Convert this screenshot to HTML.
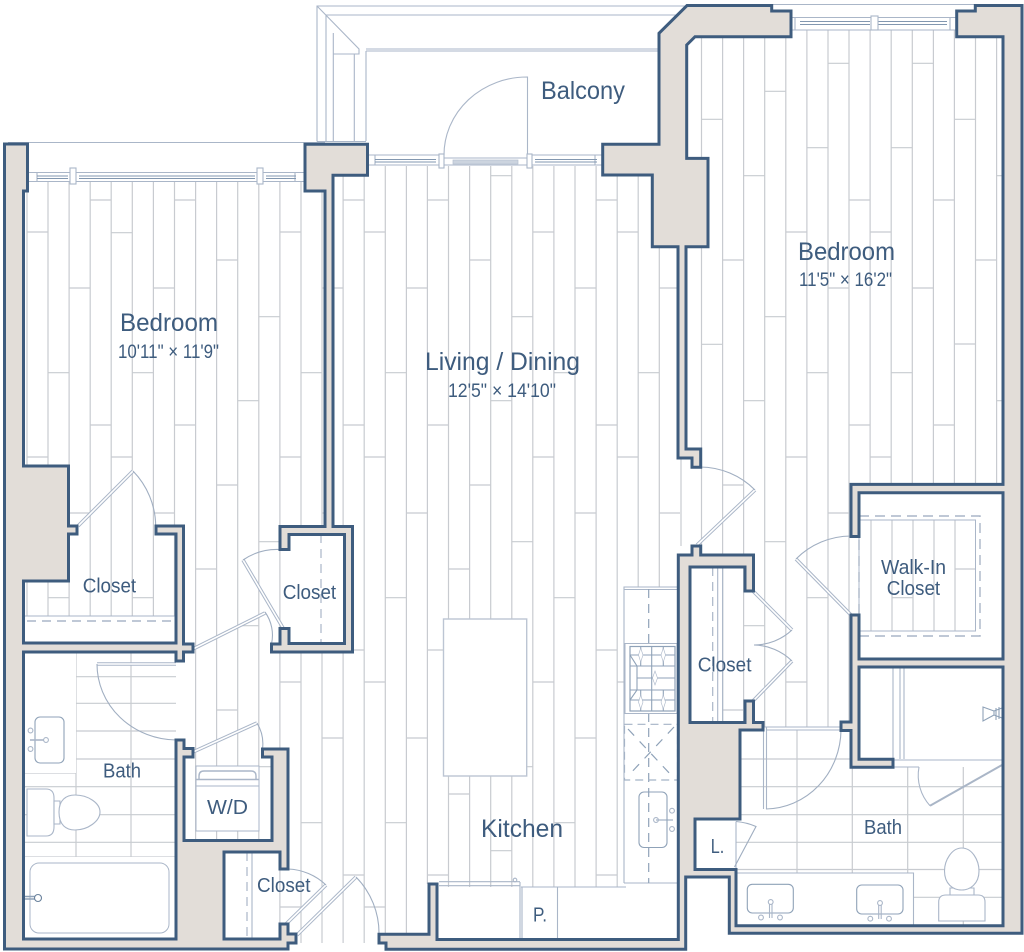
<!DOCTYPE html>
<html><head><meta charset="utf-8"><style>
html,body{margin:0;padding:0;background:#fff}
svg{display:block}
text{font-family:"Liberation Sans",sans-serif;fill:#3e5c7e}
.p{fill:none;stroke:#c8cbd0;stroke-width:1.2}
.l{fill:none;stroke:#aab6c8;stroke-width:1.1}
.d{fill:none;stroke:#aab6c8;stroke-width:1.2;stroke-dasharray:9 6}
.w{fill:#e2ddd8;stroke:#3e5c7e;stroke-width:3;stroke-linejoin:miter}
.f{fill:#fff;stroke:#aab6c8;stroke-width:1.1}
.dl{fill:none;stroke:#aab6c8;stroke-width:3.6}
.dw{fill:none;stroke:#fff;stroke-width:1.6}
</style></head><body>
<svg width="1024" height="952" viewBox="0 0 1024 952" xmlns="http://www.w3.org/2000/svg">
<rect width="1024" height="952" fill="#fff"/>

<!-- plank verticals -->
<path class="p" d="M27 182V616M48 182V616M69.1 182V616M90.2 182V616M111.2 182V616M132.3 182V616M153.4 182V616M174.5 182V616
M195.6 182V840M216.6 182V840M237.7 182V840M258.8 182V840M279.9 182V925M301 182V534M301 644V943M322 182V534M322 644V943M343.1 176V526M343.1 652V943M364.2 176V943
M385.3 166V934M406.4 166V934M427.4 166V884M448.5 166V887M469.6 166V887M490.7 166V887M511.8 166V887M532.8 166V887M553.9 166V887M575 166V887M596.1 166V887M617.2 176V887
M638.2 176V587M659.3 247V587M681 458V546
M701.5 37V555M722.6 37V722M743.6 37V722M764.7 37V727M785.8 37V727M806.9 30V727M828 30V727M849 30V727
M870.1 30V484M891.2 30V484M912.3 30V484M933.4 30V484M954.4 30V484M975.5 37V484M996.6 37V484
M871 520V631M892 520V631M913 520V631M934 520V631M955 520V631"/>
<!-- plank seams -->
<path class="p" d="M27 232h21M27 457h21M48 372.7h21M48 597.7h21M69 288h21M69 513h21M90 200h21M90 425h21M111 232.7h21M111 457h21M132 372.7h21M132 597.7h21M153 288h21M153 513h21M174 200h21M174 425h21
M195.6 569h21M216.6 260h21M216.6 485h21M216.6 710h21M237.7 400.7h21M237.7 625.7h21M258.8 316.7h21M258.8 541.7h21M258.8 766.7h14
M280 232h21M280 457h21M280 682h21M280 907h21M301 372.7h21M301 822.7h21M322 288h21M322 513h3M322 738h21M343 200h21M343 425h21M343 650h21M343 875h21
M364 232h21M364 457h21M364 682h21M364 907h21M385 372.7h21M385 597.7h21M385 822.7h21M406 288h21M406 513h21M406 738h21M427 200h21M427 425h21M427 650h21M427 875h21
M448.5 569h21M448.5 794h21M469.6 260h21M469.6 485h21M490.7 175.7h21M490.7 400.7h21M490.7 850.7h21M511.8 316.7h21M511.8 541.7h21M511.8 766.7h21
M532.8 232h21M532.8 457h21M532.8 682h21M553.9 372.7h21M553.9 597.7h21M553.9 822.7h21M575 288h21M575 513h21M575 738h21M596 200h21M596 425h21M596 650h21M596 875h21
M617 232h21M617 457h21M617 682h8M638 372.7h21M659 288h21M659 513h21
M701.5 119.3h21M701.5 344.3h21M722.6 260h21M722.6 485h21M722.6 710h21M743.6 175.7h21M743.6 400.7h21M743.6 625.7h21M764.7 91.3h21M764.7 316.7h21M764.7 541.7h21
M785.8 232h21M785.8 457h21M785.8 682h21M806.9 147.7h21M806.9 372.7h21M806.9 597.7h21M828 63.3h21M828 288h21M828 513h21M849 200h21M849 425h21
M870 232h21M870 457h21M891 147.7h21M891 372.7h21M892 597.7h21M912 63.3h21M912 288h21M933 200h21M933 425h21M954 119.3h21M954 344h21M955 569h21M975 260h21M997 175.7h6M997 400.7h6"/>

<!-- left bath tile -->
<path class="p" d="M76 652V857M131 652V857M76 676.7H176M76 703.3H176M76 731H176M24 759H176M24 786.7H176M24 814.7H176M24 842.3H176M24 857H176M24 773H76"/>
<!-- right bath tile -->
<path class="p" d="M797 730V873M852.3 767V873M907.7 767V873M963.3 767V925M740 759H851M740 786.7H1003M736 814.7H1003M736 842.3H1003M736 869.5H1003M913 897.3H1003"/>

<!-- balcony -->
<path class="l" d="M317 141.5V6H688M326 141V15H678M333.3 141V33M354.3 141V54M366 141V51M317 6L359 49V54H333.3M366 49H660M366 51H660M317 141.5H366M8 142.5H325"/>
<path class="l" d="M527.5 155V77A83 78 0 0 0 444 155"/>

<!-- windows left bedroom -->
<path class="l" d="M28 172.5H305M28 181.5H305M37 172.5V181.5M295 172.5V181.5"/>
<path class="l" style="stroke:#8297b0" d="M37 176H68M37 178.5H68M79 176H255M79 178.5H255M266 176H296M266 178.5H296"/>
<rect class="f" x="70" y="168" width="6" height="16"/><rect class="f" x="257" y="168" width="6" height="16"/>
<!-- centre windows -->
<path class="l" d="M368 155H439M368 165H439M532 155H602M532 165H602M375 155V165M595 155V165"/>
<path class="l" style="stroke:#8297b0" d="M375 159.5H436M375 162H436M535 159.5H597M535 162H597"/>
<rect class="f" x="439" y="154" width="5" height="14"/><rect class="f" x="527" y="154" width="5" height="14"/>
<path class="l" d="M444 158H527M444 165H527"/>
<rect x="453" y="160" width="65" height="4" fill="#ccd4df" stroke="#b5c0d0" stroke-width=".7"/>
<!-- right window -->
<path class="l" d="M791 17.5H956M791 30H956M795 17.5V30M950 17.5V30M772.5 4.5H975"/>
<path class="l" style="stroke:#8297b0" d="M800 21.5H870M800 24.5H870M878 21.5H947M878 24.5H947"/>
<rect class="f" x="871" y="16" width="7" height="14"/>

<!-- island -->
<rect x="443.5" y="619" width="83.2" height="157" fill="#fff" stroke="#bcc5d3" stroke-width="1.4"/>

<!-- kitchen counter -->
<rect x="624" y="587" width="54" height="296" fill="#fff"/>
<path class="l" d="M624 883V587H678M624 589.5H678M624 883H678M521 887H626"/>
<path class="d" style="stroke:#8fa2b8" d="M648.7 589V644M648.7 713V883"/>
<rect x="625" y="643.5" width="52" height="70" fill="#fff" stroke="#aab6c8" stroke-width="1"/>
<rect x="630" y="646.5" width="45" height="64.5" fill="none" stroke="#8fa2b8" stroke-width="1.2"/>
<path class="l" style="stroke:#8fa2b8;stroke-width:1.1" d="M630 655H675M630 666H675M637 678H675M630 690H675M630 700H675M640.7 646V666M651.7 646V711M663.3 646V666M640.7 690V711M663.3 690V711M630 655L637 666V690L630 700"/>
<path fill="#fff" stroke="#aab6c8" stroke-width=".6" d="M640.7 648L643 655L640.7 662L638.5 655ZM663.3 648L665.5 655L663.3 662L661 655ZM655 671L657.5 678L655 685L652.5 678ZM640.7 695L643 702L640.7 709L638.5 702ZM663.3 695L665.5 702L663.3 709L661 702Z"/>
<rect x="624.5" y="724.3" width="53" height="55.7" fill="none" stroke="#a5b3c6" stroke-width="1.2" stroke-dasharray="8 5"/>
<path class="d" style="stroke:#8fa2b8;stroke-dasharray:9 8" d="M628 729L672 776M674 727L628 776"/>
<rect x="639" y="792" width="28" height="55.5" rx="5" fill="none" stroke="#8fa2b8" stroke-width="1.1"/>
<path class="l" style="stroke:#8fa2b8" d="M656 820H673"/>
<circle class="l" cx="656" cy="820" r="2.4"/><circle class="l" cx="672" cy="810.7" r="2.4"/><circle class="l" cx="672" cy="829" r="2.4"/>
<!-- fridge & pantry -->
<path class="l" d="M439 881.7H520M439 885.7H520M520 882V939M522 887V939M557.5 887V939"/>
<circle class="l" cx="515" cy="880" r="1.8"/>

<!-- closet shelves -->
<path class="l" d="M24 616H176"/>
<path class="d" style="stroke-width:1.4" d="M27 621H175"/>
<path class="d" d="M321 534V643"/>
<path class="d" d="M247 852V939"/>
<path class="l" d="M252 852V939"/>
<path class="d" d="M712.7 567V722"/>
<path class="l" d="M717.7 567V722M722.7 567V722"/>

<!-- walk-in -->
<rect x="859" y="516" width="121" height="120" fill="none" stroke="#aab6c8" stroke-width="1.4" stroke-dasharray="10 6"/>
<rect x="859" y="520" width="116.5" height="111" fill="none" stroke="#aab6c8" stroke-width="1"/>

<!-- W/D -->
<rect x="196" y="766" width="63" height="65" fill="#fff" stroke="#aab6c8"/>
<path class="l" d="M196 786H259"/>
<path class="l" style="stroke-width:1.4" d="M199 779V776Q199 771 204 771H251Q256 771 256 776V779M196 779.5H259"/>

<!-- left bath fixtures -->
<rect x="24" y="857" width="152" height="82" fill="#fff"/>
<rect x="24" y="652" width="52" height="121" fill="#fff"/>
<rect x="30" y="863" width="139" height="70" rx="9" fill="#fff" stroke="#aab6c8"/>
<path class="l" style="stroke:#8fa2b8;stroke-width:1.4" d="M25 896.5H36M25 899H36"/>
<circle cx="38" cy="898" r="3.5" fill="#fff" stroke="#6a829d" stroke-width="1.1"/>
<rect x="35" y="717" width="29" height="46" rx="5" fill="#fff" stroke="#8fa2b8" stroke-width="1.1"/>
<path class="l" style="stroke-width:1.6" d="M30 740H46"/>
<circle class="f" cx="30.5" cy="730.5" r="2.4"/><circle class="f" cx="30.5" cy="749" r="2.4"/><circle class="f" cx="46" cy="740" r="2.4"/>
<path class="f" d="M27 789H46Q54 789 54 798V827Q54 836 46 836H27Z"/>
<path class="f" d="M54 801H60V824H54Z"/>
<path class="f" d="M59 812C59 800 66 795 75 795C88 795 100 803 100 812C100 821 88 830 75 830C66 830 59 825 59 812Z"/>

<!-- right bath fixtures -->
<rect x="736" y="873" width="177.5" height="52" fill="#fff"/>
<path class="l" d="M736 873H913.5V925"/>
<rect x="747.3" y="884.3" width="46" height="28.7" rx="5" fill="none" stroke="#8fa2b8" stroke-width="1.1"/>
<rect x="856.7" y="885" width="46.3" height="29" rx="5" fill="none" stroke="#8fa2b8" stroke-width="1.1"/>
<path class="l" d="M769.5 902V918M772 902V918M878.7 903V919M881.2 903V919"/>
<circle class="f" cx="770.7" cy="902" r="2.4"/><circle class="l" cx="761" cy="917.5" r="2.4"/><circle class="l" cx="780" cy="917.5" r="2.4"/>
<circle class="f" cx="880" cy="903" r="2.4"/><circle class="l" cx="870.3" cy="918.7" r="2.4"/><circle class="l" cx="889" cy="918.7" r="2.4"/>
<path class="f" d="M938.7 921V902Q938.7 895 946 895H978Q985 895 985 902V921Z"/>
<path class="f" d="M950 888H974V895H950Z"/>
<path class="f" d="M961.7 848C972 848 979 860 979 871C979 884 970 890 961.7 890C953 890 944.5 884 944.5 871C944.5 860 952 848 961.7 848Z"/>

<!-- shower -->
<rect x="859" y="667" width="144" height="92" fill="#fff"/>
<path class="l" d="M893 667V759M900 667V759M904 667V759M893 760H1003M893 767H919"/>
<path style="fill:none;stroke:#aab6c7;stroke-width:2" d="M1002 765L930 805.7"/>
<path class="l" d="M930 805.7A45 45 0 0 1 919 767"/>
<path class="l" style="stroke:#8fa2b8" d="M983 707V721L994 715V711ZM994 711L1002 708M994 715L1002 718M996 708V720M999 707V719"/>

<!-- right bath door -->
<path class="l" d="M763.5 727V809M766.5 727V809M764 727H841M766 730H841"/>
<path class="l" style="stroke:#a0aec1" d="M766 809A76 80 0 0 0 841 730"/>
<!-- L door -->
<path class="l" d="M736 821.5V868"/>
<path class="l" style="stroke:#9fadc0" d="M736 821.5Q747 822.5 756 826.5L734.5 867"/>

<!-- door leaves -->
<g>
<path class="dl" d="M78 526L133 471M193 649L265 613M283 628L243 560M193 752L257 723M286 924L326 885M297 935L356 877M697 545L755 490M753 591L792 630M753 701L792 661M851 615L796 559M97 664H176"/>
<path class="dw" d="M78 526L133 471M193 649L265 613M283 628L243 560M193 752L257 723M286 924L326 885M297 935L356 877M697 545L755 490M753 591L792 630M753 701L792 661M851 615L796 559M97 664H176"/>
</g>
<path class="l" style="stroke:#a0aec1" d="M133 471A80 80 0 0 1 155.7 526M265 612A40 40 0 0 1 271.5 644M243 560A60 60 0 0 1 280 549.5M97 664A80 76 0 0 0 176 740M257 723A40 40 0 0 1 262.5 749M326 885A58 58 0 0 0 288 869M356 877A80 80 0 0 1 379 934M755 490A78 78 0 0 0 700 467M792 630A56 56 0 0 1 754 645M792 661A56 56 0 0 0 754 645M796 559A78 78 0 0 1 851 536"/>

<!-- walls -->
<path class="w" d="M4.5 144H27.5V191H23.5V466H68.5V526H77V534H68.5V581H23.5V643H176V534H156V526H183.5V644H193V652H183.5V661H176V652H23.5V939H176V740H184V748.5H193V757H184V840.5H272V757H262.5V749H288V869H280V852H224V939H280V924H288V934H296V943H288V949H4.5Z"/>
<path class="w" d="M271.5 644H280V628.5H289V643.5H344.5V534.5H289V549.5H280V526.5H325V191H305V144.3H367.5V175.3H333V526.5H352.5V652H271.5Z"/>
<path class="w" d="M379 934.3H429V884H437V939.5H678.3V555H692V546H700.7V555H753.5V591H745V567H690V722.5H745V701H753.5V722.5H763V730H740V819H695V869.5H736V925.7H1003V667H859V759.3H893V767.3H851V730.5H841V722H851V615H859V659H1003V492.7H859V536.5H851V484.4H1003V36.7H956.7V11H975.3V5.5H1022V933.3H729.3V877H685.7V949.3H386V943H379Z"/>
<path class="w" d="M602.7 144.3H659V33.3L687 5.5H771.7V11H791V36.7H695L686.7 45V158.4H708V246.7H686V449H700.7V467.3H692V458H678V246.7H652.3V175H602.7Z"/>

<!-- labels -->
<text x="120" y="331" font-size="25" textLength="98" lengthAdjust="spacingAndGlyphs">Bedroom</text>
<text x="118" y="358" font-size="19" textLength="101" lengthAdjust="spacingAndGlyphs">10'11" × 11'9"</text>
<text x="541" y="99" font-size="25" textLength="84" lengthAdjust="spacingAndGlyphs">Balcony</text>
<text x="798" y="260" font-size="25" textLength="97" lengthAdjust="spacingAndGlyphs">Bedroom</text>
<text x="799" y="286" font-size="19" textLength="93" lengthAdjust="spacingAndGlyphs">11'5" × 16'2"</text>
<text x="425" y="370" font-size="25" textLength="155" lengthAdjust="spacingAndGlyphs">Living / Dining</text>
<text x="448" y="397" font-size="19" textLength="108" lengthAdjust="spacingAndGlyphs">12'5" × 14'10"</text>
<text x="82.7" y="592.7" font-size="20" textLength="53.5" lengthAdjust="spacingAndGlyphs">Closet</text>
<text x="282.7" y="599" font-size="20" textLength="53.5" lengthAdjust="spacingAndGlyphs">Closet</text>
<text x="103" y="777.3" font-size="20" textLength="38" lengthAdjust="spacingAndGlyphs">Bath</text>
<text x="207" y="814" font-size="20" textLength="41" lengthAdjust="spacingAndGlyphs">W/D</text>
<text x="257" y="892" font-size="20" textLength="53.5" lengthAdjust="spacingAndGlyphs">Closet</text>
<text x="481" y="837" font-size="25" textLength="82" lengthAdjust="spacingAndGlyphs">Kitchen</text>
<text x="533" y="921.7" font-size="20" textLength="14" lengthAdjust="spacingAndGlyphs">P.</text>
<text x="697.7" y="671.7" font-size="20" textLength="53.8" lengthAdjust="spacingAndGlyphs">Closet</text>
<text x="881" y="574" font-size="20" textLength="65" lengthAdjust="spacingAndGlyphs">Walk-In</text>
<text x="886.7" y="595" font-size="20" textLength="53.5" lengthAdjust="spacingAndGlyphs">Closet</text>
<text x="864" y="834" font-size="20" textLength="38" lengthAdjust="spacingAndGlyphs">Bath</text>
<text x="710.7" y="853" font-size="20" textLength="13.5" lengthAdjust="spacingAndGlyphs">L.</text>
</svg>
</body></html>
